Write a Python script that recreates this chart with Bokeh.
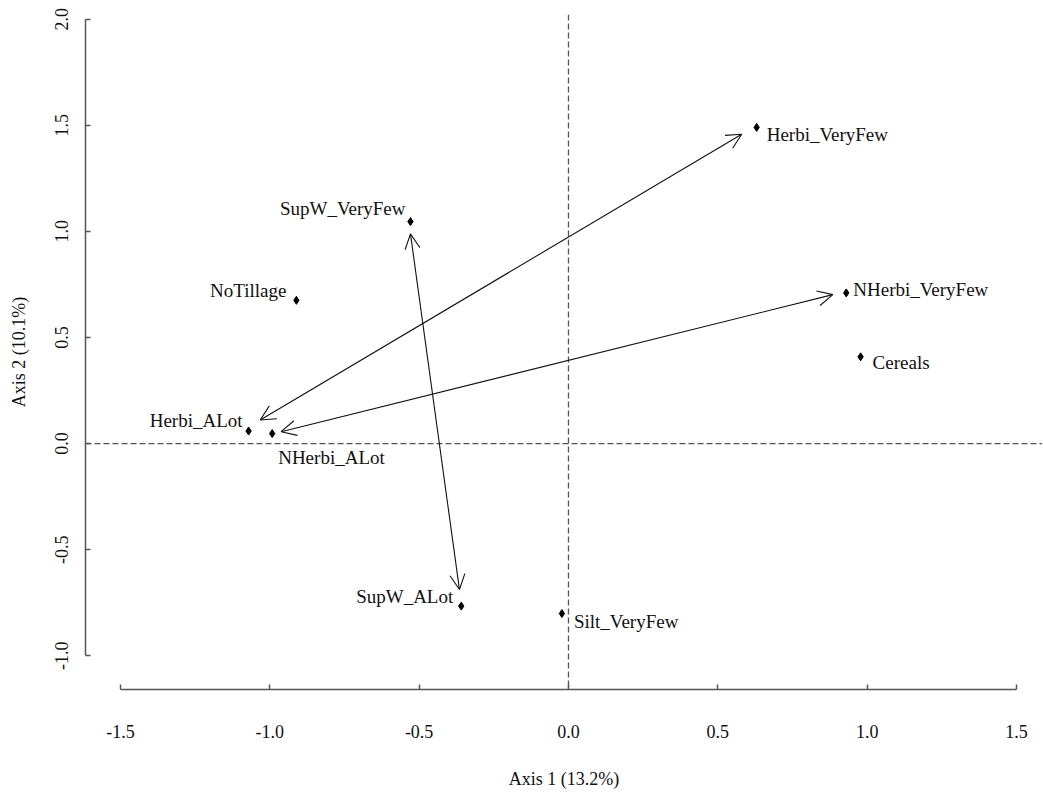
import math
from bokeh.plotting import figure
from bokeh.models import (ColumnDataSource, Range1d, FixedTicker, PrintfTickFormatter,
                          Span, Arrow, OpenHead)
from bokeh.core.properties import value
from bokeh.embed import file_html
from bokeh.resources import INLINE

# ---------------- data ----------------
names = ["Herbi_VeryFew", "NHerbi_VeryFew", "Cereals", "SupW_VeryFew", "NoTillage",
         "Herbi_ALot", "NHerbi_ALot", "SupW_ALot", "Silt_VeryFew"]
axis1 = [0.630, 0.930, 0.978, -0.529, -0.911, -1.071, -0.992, -0.359, -0.022]
axis2 = [1.490, 0.710, 0.409, 1.046, 0.675, 0.059, 0.047, -0.766, -0.801]

arrow_x_start = [-1.032, -0.962, -0.529]
arrow_y_start = [0.111, 0.056, 0.988]
arrow_x_end = [0.580, 0.885, -0.365]
arrow_y_end = [1.458, 0.702, -0.688]

x_ticks = [-1.5, -1.0, -0.5, 0.0, 0.5, 1.0, 1.5]
y_ticks = [-1.0, -0.5, 0.0, 0.5, 1.0, 1.5, 2.0]
x_title = "Axis 1 (13.2%)"
y_title = "Axis 2 (10.1%)"

# ---------------- styling ----------------
FONT = "Liberation Serif"
# label placement: (align, dx px, dy px downward)
label_style = {
    "Herbi_VeryFew": ("left", 10, 7),
    "NHerbi_VeryFew": ("left", 7, -3),
    "Cereals": ("left", 12, 6),
    "SupW_VeryFew": ("right", -5, -13),
    "NoTillage": ("right", -10, -10),
    "Herbi_ALot": ("right", -6, -11),
    "NHerbi_ALot": ("left", 6, 24),
    "SupW_ALot": ("right", -8, -10),
    "Silt_VeryFew": ("left", 12, 8),
}

p = figure(width=1042, height=791, output_backend="svg", toolbar_location=None,
           x_range=Range1d(-1.617, 1.587), y_range=Range1d(-1.159, 2.022),
           min_border_left=85, min_border_right=0, min_border_top=14, min_border_bottom=100)
p.outline_line_color = None
p.xgrid.grid_line_color = None
p.ygrid.grid_line_color = None
p.background_fill_color = "white"
p.border_fill_color = "white"

AX = "#555555"
for ax, ticks, bounds, standoff, title, tstand in [
        (p.xaxis[0], x_ticks, (-1.5, 1.5), 35, x_title, 28),
        (p.yaxis[0], y_ticks, (-1.0, 2.0), 17, y_title, 24)]:
    ax.ticker = FixedTicker(ticks=ticks)
    ax.bounds = bounds
    ax.formatter = PrintfTickFormatter(format="%.1f")
    ax.axis_line_color = AX
    ax.axis_line_width = 1.5
    ax.major_tick_line_color = AX
    ax.major_tick_line_width = 1.5
    ax.major_tick_in = 5
    ax.major_tick_out = 0
    ax.minor_tick_line_color = None
    ax.major_label_text_font = FONT
    ax.major_label_text_font_size = "18px"
    ax.major_label_text_color = "#111111"
    ax.major_label_standoff = standoff
    ax.axis_label = title
    ax.axis_label_text_font = FONT
    ax.axis_label_text_font_size = "18px"
    ax.axis_label_text_font_style = "normal"
    ax.axis_label_text_color = "#111111"
    ax.axis_label_standoff = tstand
p.yaxis[0].major_label_orientation = "vertical"

# reference dashed lines
p.add_layout(Span(location=0, dimension="height", line_dash="6 3", line_color=AX, line_width=1.3))
p.add_layout(Span(location=0, dimension="width", line_dash="6 3", line_color=AX, line_width=1.3))

# arrows
asrc = ColumnDataSource(dict(x0=arrow_x_start, y0=arrow_y_start, x1=arrow_x_end, y1=arrow_y_end))
p.add_layout(Arrow(source=asrc, x_start="x0", y_start="y0", x_end="x1", y_end="y1",
                   line_color="#111111", line_width=1.1,
                   start=OpenHead(size=15, line_width=1.1, line_color="#111111"),
                   end=OpenHead(size=15, line_width=1.1, line_color="#111111")))

# points
psrc = ColumnDataSource(dict(x=axis1, y=axis2, name=names))
p.scatter("x", "y", source=psrc, marker="diamond", size=8, color="black")

# labels
for align in ["left", "right"]:
    idx = [i for i, n in enumerate(names) if label_style[n][0] == align]
    src = ColumnDataSource(dict(
        x=[axis1[i] for i in idx], y=[axis2[i] for i in idx],
        t=[names[i] for i in idx],
        dx=[label_style[names[i]][1] for i in idx],
        dy=[label_style[names[i]][2] for i in idx]))
    p.text("x", "y", text="t", source=src, x_offset="dx", y_offset="dy",
           text_align=align, text_baseline="middle", text_font=value(FONT),
           text_font_size="19px", text_color="#111111")

open("out.html", "w").write(file_html(p, INLINE))
